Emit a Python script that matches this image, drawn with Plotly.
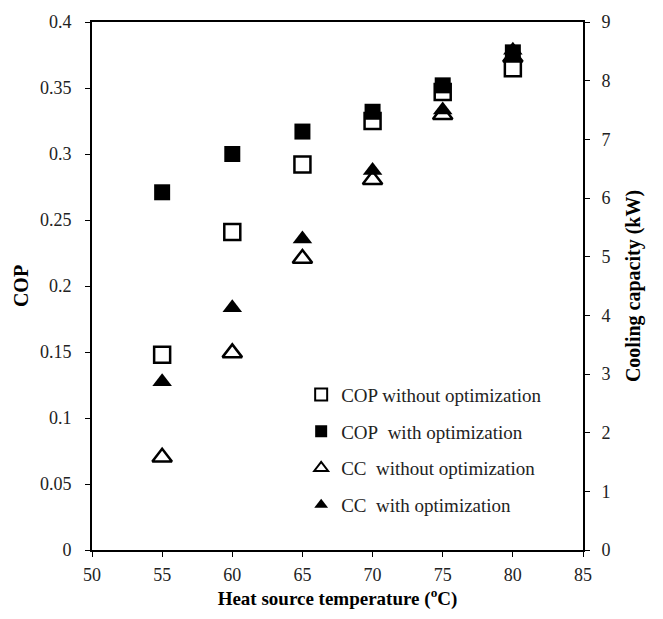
import plotly.graph_objects as go

temps = [55, 60, 65, 70, 75, 80]
cop_without = [0.148, 0.241, 0.292, 0.325, 0.347, 0.365]
cop_with = [0.271, 0.300, 0.317, 0.332, 0.352, 0.377]
cc_without = [1.58, 3.36, 4.97, 6.31, 7.42, 8.4]
cc_with = [2.87, 4.13, 5.30, 6.47, 7.50, 8.52]

cop_ticks = [0, 0.05, 0.1, 0.15, 0.2, 0.25, 0.3, 0.35, 0.4]
cop_ticktext = ["0", "0.05", "0.1", "0.15", "0.2", "0.25", "0.3", "0.35", "0.4"]
cc_ticks = [0, 1, 2, 3, 4, 5, 6, 7, 8, 9]
x_ticks = [50, 55, 60, 65, 70, 75, 80, 85]

FONT = "Liberation Serif"
NB = "\u00a0"

fig = go.Figure()
fig.add_trace(go.Scatter(x=temps, y=cc_without, mode="markers", yaxis="y2",
                         name="CC" + NB + NB + "without optimization", legendgroup="c", legendrank=3,
                         marker=dict(symbol="triangle-up-open", size=17, color="black", line=dict(width=2.5))))
fig.add_trace(go.Scatter(x=temps, y=cc_with, mode="markers", yaxis="y2",
                         name="CC" + NB + NB + "with optimization", legendgroup="d", legendrank=4,
                         marker=dict(symbol="triangle-up", size=17, color="black")))
fig.add_trace(go.Scatter(x=temps, y=cop_without, mode="markers",
                         name="COP without optimization", legendgroup="a", legendrank=1,
                         marker=dict(symbol="square-open", size=16, color="black", line=dict(width=2.5))))
fig.add_trace(go.Scatter(x=temps, y=cop_with, mode="markers",
                         name="COP" + NB + NB + "with optimization", legendgroup="b", legendrank=2,
                         marker=dict(symbol="square", size=16, color="black")))

axis_common = dict(showline=True, linecolor="black", linewidth=2, ticks="outside",
                   ticklen=5, tickcolor="black", tickwidth=1, showgrid=False, zeroline=False,
                   tickfont=dict(family=FONT, size=18, color="#222"))

TFONT = dict(family=FONT, size=20, color="black")

fig.update_layout(
    width=663, height=619,
    margin=dict(l=92, r=80, t=13, b=69),
    paper_bgcolor="white", plot_bgcolor="white",
    font=dict(family=FONT, color="black"),
    xaxis=dict(range=[50, 85], tickvals=x_ticks, mirror=True, ticklabelstandoff=2,
               title=dict(text="<b>Heat source temperature (<sup>o</sup>C)</b>",
                          font=dict(family=FONT, size=19, color="black"), standoff=3),
               **axis_common),
    yaxis=dict(range=[0, 0.4], tickvals=cop_ticks, ticktext=cop_ticktext, ticklabelstandoff=10,
               title=dict(text="<b>COP</b>", font=TFONT, standoff=6),
               **axis_common),
    yaxis2=dict(range=[0, 9], tickvals=cc_ticks, overlaying="y", side="right", ticklabelstandoff=8,
                title=dict(text="<b>Cooling capacity (kW)</b>", font=TFONT, standoff=16),
                **axis_common),
    legend=dict(x=0.426, y=0.33, xanchor="left", yanchor="top", bgcolor="rgba(0,0,0,0)",
                font=dict(family=FONT, size=19, color="#222"), itemsizing="constant",
                traceorder="grouped", tracegroupgap=9, itemwidth=30),
    showlegend=True,
)

fig.write_html("out.html")
